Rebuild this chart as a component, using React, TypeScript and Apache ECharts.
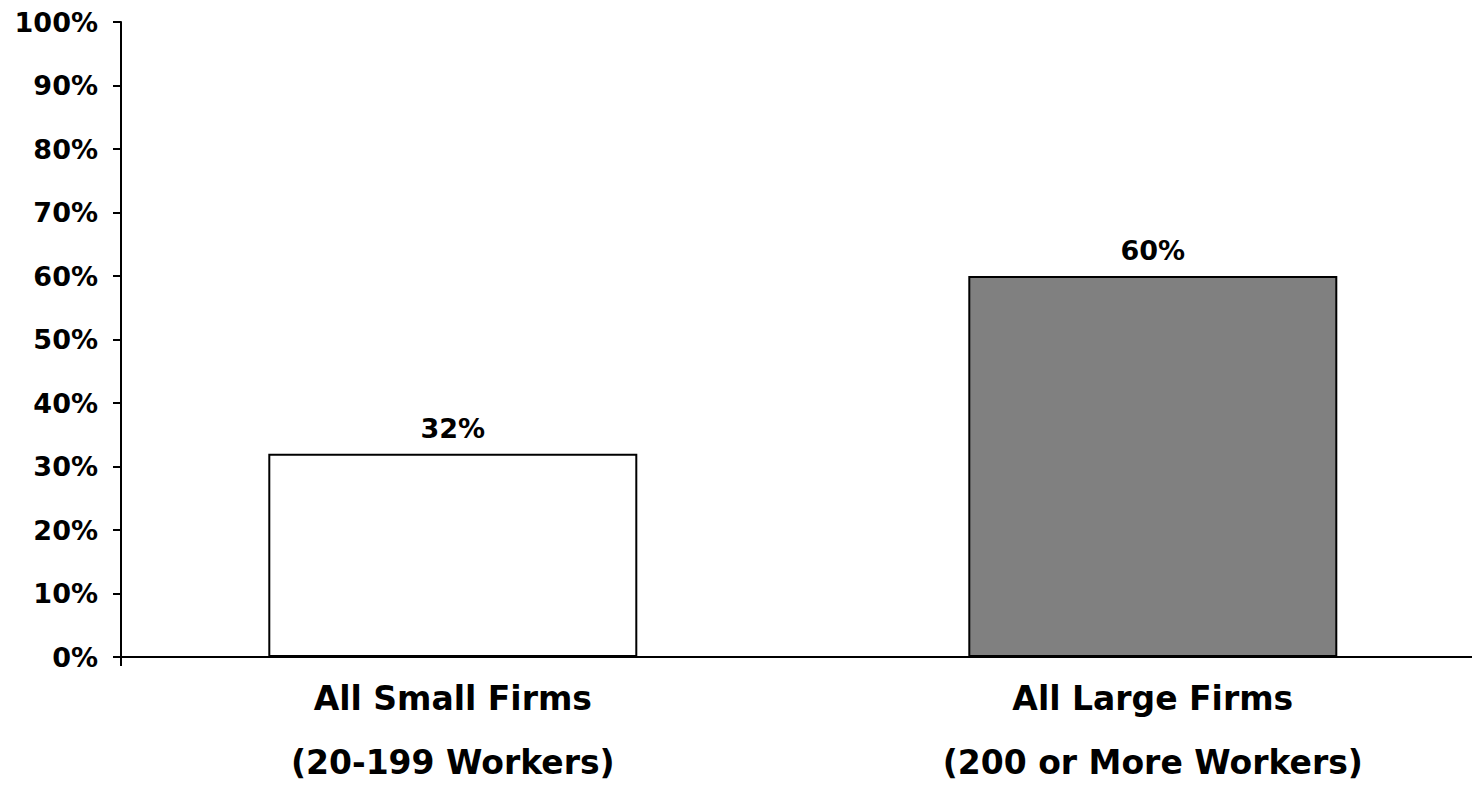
import React, { useEffect, useRef } from "react";
import * as echarts from "echarts";

const categories = ["All Small Firms\n(20-199 Workers)", "All Large Firms\n(200 or More Workers)"];
const positions = [1, 2];
const values = [32, 60];
const barColors = ["#ffffff", "#808080"];
const yTicks = [0, 100, 10];

const X_MIN = 0.526;
const X_MAX = 2.456;

export default function App() {
  const ref = useRef<HTMLDivElement>(null);
  useEffect(() => {
    if (!ref.current) return;
    const chart = echarts.init(ref.current, undefined, { renderer: "svg" });
    const font = "DejaVu Sans";
    chart.setOption({
      animation: false,
      backgroundColor: "#ffffff",
      grid: { left: 121, right: 0, top: 22, bottom: 128, containLabel: false, outerBoundsMode: "none" },
      xAxis: {
        type: "value",
        min: X_MIN,
        max: X_MAX,
        splitLine: { show: false },
        axisLine: { show: true, lineStyle: { color: "#000", width: 2 } },
        axisTick: { show: true, customValues: [X_MIN], length: 9, lineStyle: { color: "#000", width: 2 } },
        axisLabel: {
          show: true,
          customValues: positions,
          formatter: (v: number) => {
            const i = positions.indexOf(Math.round(v));
            return i >= 0 ? categories[i] : "";
          },
          margin: 9,
          fontFamily: font,
          fontWeight: "bold",
          fontSize: 33,
          lineHeight: 64,
          color: "#000",
        },
      },
      yAxis: {
        type: "value",
        min: yTicks[0],
        max: yTicks[1],
        interval: yTicks[2],
        splitLine: { show: false },
        axisLine: { show: true, lineStyle: { color: "#000", width: 2 } },
        axisTick: { show: true, length: 8, lineStyle: { color: "#000", width: 2 } },
        axisLabel: {
          formatter: "{value}%",
          margin: 23,
          fontFamily: font,
          fontWeight: "bold",
          fontSize: 27,
          color: "#000",
        },
      },
      series: [
        {
          type: "bar",
          barWidth: 369,
          data: positions.map((p, i) => ({
            value: [p, values[i]],
            itemStyle: { color: barColors[i], borderColor: "#000", borderWidth: 2 },
          })),
          label: {
            show: true,
            position: "top",
            distance: 12,
            formatter: (p: any) => p.value[1] + "%",
            fontFamily: font,
            fontWeight: "bold",
            fontSize: 27,
            color: "#000",
          },
        },
      ],
    });
    return () => chart.dispose();
  }, []);
  return (
    <div
      ref={ref}
      style={{ position: "fixed", left: 0, top: 0, width: "1472px", height: "785px" }}
    />
  );
}
